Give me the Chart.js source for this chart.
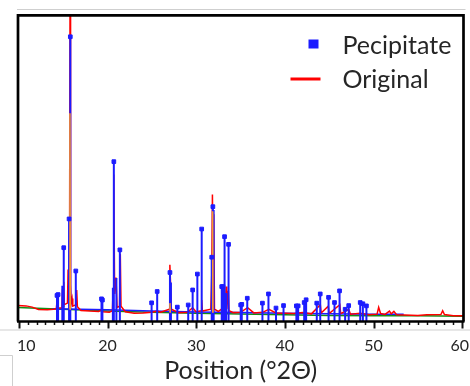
<!DOCTYPE html>
<html><head><meta charset="utf-8">
<script src="https://cdn.jsdelivr.net/npm/chart.js@4.4.1/dist/chart.umd.min.js"></script>
<style>html,body{margin:0;padding:0;background:#fff}#wrap{width:470px;height:386px;position:relative}</style>
</head><body><div id="wrap"><canvas id="c"></canvas></div>
<script>
// ---- data ----
const seriesLabels = ['Pecipitate', 'Original'];
const xTickLabels = [10, 20, 30, 40, 50, 60];
const xTitle = 'Position (°2Θ)';

// precipitate peak list (with square markers)
const peakPos = [14.30, 14.42, 15.06, 15.66, 15.80, 16.42, 19.32, 19.42, 20.71, 21.39,
  24.97, 25.60, 27.04, 27.87, 29.10, 29.60, 30.13, 30.62, 31.75, 31.88,
  32.88, 33.02, 33.20, 33.65, 35.02, 35.14, 35.76, 37.47, 38.15, 39.00,
  39.85, 41.30, 41.50, 42.18, 42.40, 43.60, 43.99, 44.93, 45.60, 46.17,
  46.80, 47.20, 48.50, 48.80, 49.20];
const peakVal = [8.5, 8.8, 24.1, 33.5, 93.0, 16.5, 7.4, 7.0, 52.2, 23.4,
  6.1, 9.8, 16.0, 4.7, 5.4, 10.3, 15.5, 30.2, 21.0, 37.5,
  11.4, 11.4, 27.7, 25.2, 5.4, 5.6, 7.6, 6.0, 9.0, 4.4,
  5.2, 5.1, 5.1, 6.2, 7.1, 6.0, 9.0, 7.9, 6.2, 10.0,
  4.0, 5.2, 6.2, 5.8, 5.1];
// precipitate sticks without marker
const shoulderPos = [14.90, 20.60, 21.00, 27.15, 31.97, 33.37];
const shoulderVal = [11.7, 11.0, 14.2, 12.7, 36.4, 9.3];
// precipitate background trace
const precipBasePos = [13.8, 20, 25, 30, 35, 40, 45, 50, 53.4];
const precipBaseVal = [4.2, 3.8, 3.4, 3.1, 2.9, 2.7, 2.5, 2.4, 2.35];

// original pattern
const originalPos = [9.9, 10.8, 11.5, 12.2, 13.2, 13.9,
  14.22, 14.30, 14.38, 14.85, 14.92, 15.00, 15.06, 15.12,
  15.48, 15.55, 15.62, 15.72, 15.77, 15.83, 15.90, 16.00, 16.08,
  16.45, 16.52, 16.60, 17.0, 18.0, 19.0, 19.3, 19.5, 20.2,
  20.55, 20.62, 20.70, 20.80, 20.95, 21.08, 21.35, 21.44, 21.52,
  22.0, 23.0, 24.0, 25.0, 25.6, 26.0, 26.95, 27.03, 27.10, 27.20,
  28.0, 29.0, 29.6, 30.0, 30.55, 30.62, 30.70,
  31.65, 31.76, 31.83, 31.90, 31.98, 32.06, 32.5, 33.10, 33.20, 33.30, 33.37, 33.45, 33.62, 33.70,
  34.2, 35.0, 35.8, 36.5, 37.5, 38.2, 39.0, 40.0, 41.0, 42.0, 43.0, 44.0, 44.1, 44.9, 45.0,
  46.2, 46.3, 47.2, 47.4, 48.5, 49.5, 50.4, 50.58, 50.8, 51.3, 51.8, 52.0, 52.3, 52.6,
  53.5, 55.0, 56.0, 57.6, 57.8, 58.0, 59.0, 60.15];
const originalVal = [5.2, 5.1, 4.7, 3.9, 3.8, 4.0,
  4.2, 6.5, 4.3, 4.5, 10.5, 5.0, 13.0, 5.5,
  6.0, 17.0, 7.0, 30.0, 106.0, 12.0, 6.0, 7.5, 5.0,
  5.5, 10.3, 4.8, 3.6, 3.4, 3.3, 3.8, 3.2, 3.0,
  3.5, 10.0, 48.0, 9.0, 14.4, 4.5, 5.0, 22.0, 5.0,
  3.2, 2.7, 2.8, 3.0, 3.4, 3.0, 4.0, 18.5, 13.0, 4.0,
  2.9, 3.0, 4.5, 3.1, 3.5, 7.0, 3.4,
  4.0, 16.0, 41.5, 20.0, 35.0, 4.0, 3.3, 4.5, 9.0, 4.8, 11.4, 4.0, 10.0, 3.5,
  2.9, 3.0, 4.5, 2.8, 3.0, 4.0, 2.8, 2.7, 2.6, 2.9, 2.5, 5.5, 2.8, 5.0, 2.6,
  5.5, 2.6, 4.0, 2.4, 2.7, 2.2, 2.4, 4.6, 2.6, 2.3, 3.4, 2.5, 3.3, 2.2,
  2.1, 2.0, 2.2, 2.3, 3.5, 2.3, 1.9, 1.9];

// second (orange) trace, visible only at main peaks
const orangePos = [15.72, 15.76, 15.80, 31.82, 31.86, 31.90, 27.00, 27.04, 27.08];
const orangeVal = [4.0, 68.0, 4.0, 3.0, 36.0, 3.0, 3.0, 6.0, 3.0];

// fitted background
const baselinePos = [9.9, 15, 20, 25, 30, 35, 40, 45, 50, 55, 60.15];
const baselineVal = [4.6, 4.0, 3.4, 3.0, 2.7, 2.45, 2.2, 2.0, 1.9, 1.85, 1.75];

// ---- build datasets ----
const pts = (xs, ys) => xs.map((x, i) => ({x: x, y: ys[i]}));
const sticks = [];
peakPos.concat(shoulderPos).forEach((p, i) => {
  const v = i < peakPos.length ? peakVal[i] : shoulderVal[i - peakPos.length];
  sticks.push({x: p, y: 0}, {x: p, y: v}, {x: p, y: null});
});
const orangeData = [];
for (let i = 0; i < orangePos.length; i += 3) {
  orangeData.push({x: orangePos[i], y: orangeVal[i]}, {x: orangePos[i+1], y: orangeVal[i+1]},
                  {x: orangePos[i+2], y: orangeVal[i+2]}, {x: orangePos[i+2], y: null});
}

const BLUE = 'rgb(28,28,255)';
const RED = 'rgb(255,0,0)';
const GREEN = 'rgb(20,140,20)';
const ORANGE = 'rgb(255,150,40)';
const FONT = 'Lato';

const framePlugin = {
  id: 'frame',
  afterDraw(chart) {
    const {ctx, chartArea: a} = chart;
    const xs = chart.scales.x;
    ctx.save();
    // crop artifacts
    ctx.strokeStyle = '#cfcfcf'; ctx.lineWidth = 1;
    ctx.beginPath(); ctx.moveTo(a.left - 1, 9.5); ctx.lineTo(a.right + 2, 9.5); ctx.stroke();
    ctx.beginPath(); ctx.moveTo(0, a.bottom + 8.5); ctx.lineTo(470, a.bottom + 8.5); ctx.stroke();
    ctx.beginPath(); ctx.moveTo(0, 355.5); ctx.lineTo(12.5, 355.5); ctx.lineTo(12.5, 386); ctx.stroke();
    // minor/major ticks
    ctx.strokeStyle = '#111';
    for (let v = 10; v <= 60; v++) {
      const px = Math.round(xs.getPixelForValue(v)) + 0.5;
      const major = v % 10 === 0;
      ctx.lineWidth = major ? 2 : 1.5;
      ctx.beginPath(); ctx.moveTo(px, a.bottom); ctx.lineTo(px, a.bottom + (major ? 7 : 3.5)); ctx.stroke();
    }
    // frame
    ctx.strokeStyle = '#000'; ctx.lineWidth = 2.7;
    ctx.beginPath();
    ctx.moveTo(a.left, a.bottom); ctx.lineTo(a.left, a.top); ctx.lineTo(a.right, a.top); ctx.lineTo(a.right, a.bottom);
    ctx.stroke();
    ctx.lineWidth = 2.6;
    ctx.beginPath(); ctx.moveTo(a.left - 1, a.bottom); ctx.lineTo(a.right + 1, a.bottom); ctx.stroke();
    // tick labels
    ctx.fillStyle = '#262626';
    ctx.font = '16px ' + FONT;
    ctx.textAlign = 'center'; ctx.textBaseline = 'middle';
    xTickLabels.forEach(v => {
      const t = String(v);
      const w = ctx.measureText(t).width;
      let px = xs.getPixelForValue(v);
      px = Math.max(px, a.left - 1 + w / 2);
      px = Math.min(px, 470 - 1 - w / 2);
      ctx.fillText(t, px, a.bottom + 24);
    });
    // legend
    const lx = a.right - 165;
    ctx.fillStyle = BLUE;
    ctx.fillRect(lx + 10, 39.5, 10, 9);
    ctx.strokeStyle = RED; ctx.lineWidth = 3;
    ctx.beginPath(); ctx.moveTo(lx - 8, 79); ctx.lineTo(lx + 22, 79); ctx.stroke();
    ctx.fillStyle = '#262626';
    ctx.font = '25px ' + FONT;
    ctx.textAlign = 'left'; ctx.textBaseline = 'middle';
    ctx.fillText(chart.data.datasets[0].label, lx + 44, 46);
    ctx.fillText(chart.data.datasets[1].label, lx + 44, 80);
    ctx.restore();
  }
};

new Chart(document.getElementById('c'), {
  type: 'line',
  data: {
    datasets: [
      {label: seriesLabels[0], type: 'scatter', data: pts(peakPos, peakVal), showLine: false,
       pointStyle: 'rect', pointRadius: 2.6, pointBorderWidth: 1, backgroundColor: BLUE, borderColor: BLUE, order: 0},
      {label: seriesLabels[1], data: pts(originalPos, originalVal), borderColor: RED, borderWidth: 1.5,
       pointRadius: 0, tension: 0, order: 3},
      {label: 'sticks', data: sticks, borderColor: BLUE, borderWidth: 2, pointRadius: 0, spanGaps: false, order: 2},
      {label: 'orange', data: orangeData, borderColor: ORANGE, borderWidth: 1.5, pointRadius: 0, spanGaps: false, order: 1},
      {label: 'precipBase', data: pts(precipBasePos, precipBaseVal), borderColor: BLUE, borderWidth: 1.5, pointRadius: 0, order: 4},
      {label: 'baseline', data: pts(baselinePos, baselineVal), borderColor: GREEN, borderWidth: 1.5, pointRadius: 0, order: 5}
    ]
  },
  options: {
    responsive: true, maintainAspectRatio: false, animation: false, devicePixelRatio: 1,
    layout: {padding: {left: 18, top: 15.3, right: 6.5, bottom: 0}},
    plugins: {legend: {display: false}, tooltip: {enabled: false}},
    scales: {
      x: {type: 'linear', min: 9.9, max: 60.15,
          grid: {display: false, drawTicks: false}, border: {display: false},
          ticks: {display: false},
          title: {display: true, text: xTitle, color: '#262626', font: {family: FONT, size: 25},
                  padding: {top: 34.5, bottom: 0}}},
      y: {min: 0, max: 100, display: false}
    }
  },
  plugins: [framePlugin]
});
</script>
</body></html>
